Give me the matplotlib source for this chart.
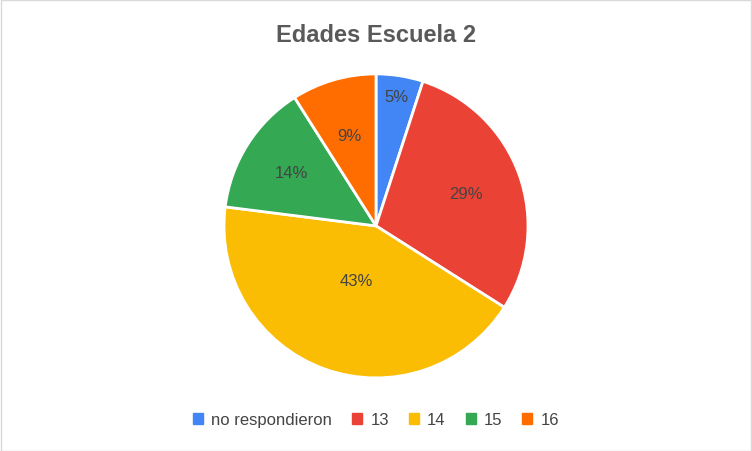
import matplotlib.pyplot as plt
import numpy as np

categorias = ["no respondieron", "13", "14", "15", "16"]
valores = [5, 29, 43, 14, 9]
colores = ["#4285F4", "#EA4335", "#FBBC04", "#34A853", "#FF6D01"]
# distancia relativa de cada etiqueta al centro
dist_etiquetas = [0.86, 0.63, 0.38, 0.66, 0.62]

fig = plt.figure(figsize=(7.52, 4.52), dpi=100)
fig.patch.set_facecolor("white")
fig.patches.append(plt.Rectangle((0.001, 0.001), 0.998, 0.997, transform=fig.transFigure,
                                 fill=False, edgecolor="#D9D9D9", linewidth=1))

ax = fig.add_axes([0.5 - 152 / 752, 0.498 - 152 / 452, 304 / 752, 304 / 452])
wedges, _ = ax.pie(valores, colors=colores, startangle=90, counterclock=False,
                   wedgeprops=dict(edgecolor="white", linewidth=2))
for w, v, d in zip(wedges, valores, dist_etiquetas):
    ang = np.deg2rad((w.theta1 + w.theta2) / 2)
    ax.text(d * np.cos(ang), d * np.sin(ang), f"{v}%", ha="center", va="center",
            fontsize=12, color="#444444", fontfamily="Liberation Sans")
ax.set_xlim(-1, 1)
ax.set_ylim(-1, 1)
ax.set_aspect("equal")

fig.text(0.5, 1 - 35 / 452, "Edades Escuela 2", ha="center", va="center",
         fontsize=17, fontweight="bold", color="#595959", fontfamily="Liberation Sans")

handles = [plt.Rectangle((0, 0), 1, 1, color=c) for c in colores]
fig.legend(handles, categorias, loc="center", bbox_to_anchor=(0.5, 1 - 421 / 452),
           ncol=5, frameon=False, handlelength=0.6, handleheight=0.6,
           handletextpad=0.5, columnspacing=1.2,
           prop={"family": "Liberation Sans", "size": 12}, labelcolor="#444444")

fig.savefig("out.png", dpi=100)
